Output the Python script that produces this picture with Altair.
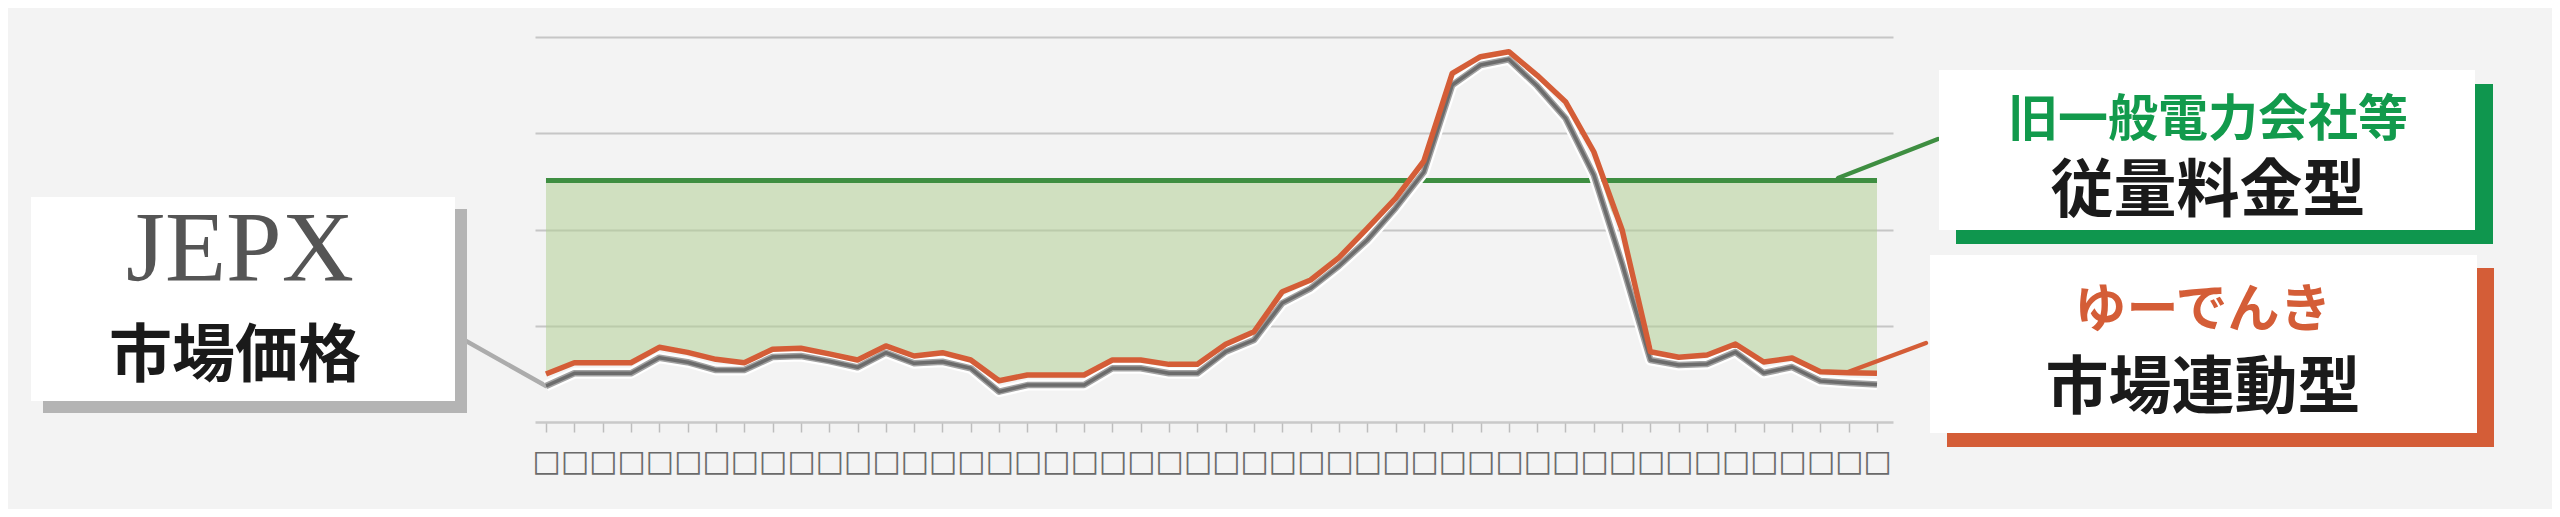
import json
import altair as alt
import pandas as pd

# ---- data ----
slots = list(range(48))  # 30-minute slots of one day
tick_labels = ["□", "□", "□", "□", "□", "□", "□", "□", "□", "□", "□", "□",
               "□", "□", "□", "□", "□", "□", "□", "□", "□", "□", "□", "□",
               "□", "□", "□", "□", "□", "□", "□", "□", "□", "□", "□", "□",
               "□", "□", "□", "□", "□", "□", "□", "□", "□", "□", "□", "□"]
yuudenki = [4.99, 6.16, 6.16, 6.16, 7.76, 7.23, 6.51, 6.16, 7.55, 7.66, 7.08, 6.44,
            7.90, 6.86, 7.20, 6.44, 4.29, 4.88, 4.88, 4.88, 6.44, 6.44, 5.99, 5.99,
            8.07, 9.38, 13.54, 14.75, 17.07, 20.11, 23.24, 27.12, 36.23, 37.95, 38.47, 36.02,
            33.28, 28.08, 19.95, 7.30, 6.72, 6.96, 8.10, 6.23, 6.65, 5.23, 5.12, 5.06]
jepx = [3.74, 5.06, 5.06, 5.06, 6.68, 6.21, 5.40, 5.40, 6.75, 6.86, 6.32, 5.68,
        7.20, 6.10, 6.26, 5.58, 3.15, 3.84, 3.84, 3.84, 5.58, 5.58, 5.06, 5.06,
        7.30, 8.52, 12.36, 13.89, 16.21, 18.91, 22.23, 25.97, 35.01, 37.09, 37.68, 34.91,
        31.58, 25.66, 16.42, 6.44, 5.92, 6.03, 7.27, 5.09, 5.71, 4.26, 4.05, 3.90]
fixed_price = 25.1
grid_values = [10, 20, 30, 40]

txt_jepx = "JEPX"
txt_market = "市場価格"
txt_old = "旧一般電力会社等"
txt_metered = "従量料金型"
txt_brand = "ゆーでんき"
txt_linked = "市場連動型"

df = pd.DataFrame({
    "slot": slots,
    "yuudenki": yuudenki,
    "jepx": jepx,
    "fixed": [fixed_price] * len(slots),
})

GREEN = "#3e8e41"
GREEN_BOX = "#0f964e"
ORANGE = "#d45d37"
CJK = "Noto Sans CJK JP"

x_enc = alt.X(
    "slot:Q",
    scale=alt.Scale(domain=[-0.388, 47.565], nice=False, zero=False),
    axis=alt.Axis(
        values=slots,
        labelExpr=json.dumps(tick_labels) + "[datum.value]",
        title=None,
        grid=False,
        domainColor="#c9c9c9",
        domainWidth=2.5,
        tickColor="#bdbdbd",
        tickWidth=1.5,
        tickSize=10,
        labelFont="DejaVu Sans",
        labelFontSize=30,
        labelColor="#6a6a6a",
        labelPadding=14,
        labelBaseline="top",
        labelOverlap=False,
    ),
)
yscale = alt.Scale(domain=[0, 40], nice=False, zero=True)
yaxis = alt.Axis(values=grid_values, grid=True, labels=False, ticks=False, domain=False,
                 title=None, gridColor="#c6c6c6", gridWidth=2)


def Y(field):
    return alt.Y(field, scale=yscale, axis=yaxis)


base = alt.Chart(df)

area = base.transform_calculate(
    lo="min(datum.yuudenki, datum.fixed)"
).mark_area(color="#b3cf96", opacity=0.55).encode(
    x=x_enc, y=Y("lo:Q"), y2="fixed:Q"
)
green_line = base.mark_line(color=GREEN, strokeWidth=5).encode(x=x_enc, y=Y("fixed:Q"))
gray_halo = base.mark_line(color="#ffffff", strokeWidth=11, strokeJoin="round").encode(x=x_enc, y=Y("jepx:Q"))
gray_outer = base.mark_line(color="#a2a2a2", strokeWidth=6.5, strokeJoin="round").encode(x=x_enc, y=Y("jepx:Q"))
gray_inner = base.mark_line(color="#6c6c6c", strokeWidth=3.5, strokeJoin="round").encode(x=x_enc, y=Y("jepx:Q"))
orange_line = base.mark_line(color=ORANGE, strokeWidth=5.5, strokeJoin="round").encode(x=x_enc, y=Y("yuudenki:Q"))

one = pd.DataFrame({"a": [0]})


def rect(x, x2, y, y2, color):
    return alt.Chart(one).mark_rect(color=color).encode(
        x=alt.value(x), x2=alt.value(x2), y=alt.value(y), y2=alt.value(y2))


def rule(x, y, x2, y2, color, w):
    return alt.Chart(one).mark_rule(color=color, strokeWidth=w, strokeCap="round").encode(
        x=alt.value(x), y=alt.value(y), x2=alt.value(x2), y2=alt.value(y2))


def label(t, x, y, size, color, font=CJK, weight="bold", baseline="middle"):
    return alt.Chart(one).mark_text(
        text=t, font=font, fontSize=size, fontWeight=weight, color=color,
        align="center", baseline=baseline
    ).encode(x=alt.value(x), y=alt.value(y))


leaders = [
    rule(-76, 300, 11, 349, "#acacac", 4.5),
    rule(1303, 141, 1403, 102, GREEN, 4.5),
    rule(1313, 335, 1391, 306, ORANGE, 4.5),
]

boxes = [
    rect(-492, -68, 172, 376, "#b4b4b4"),
    rect(-504, -80, 160, 364, "#ffffff"),
    rect(1421, 1958, 47, 207, GREEN_BOX),
    rect(1404, 1940, 33, 193, "#ffffff"),
    rect(1412, 1959, 231, 410, ORANGE),
    rect(1395, 1942, 218, 396, "#ffffff"),
]

texts = [
    label(txt_jepx, -295, 243, 100, "#555555", font="Liberation Serif", weight="normal", baseline="alphabetic"),
    label(txt_market, -300, 320, 63, "#1a1a1a"),
    label(txt_old, 1673, 84, 50, "#129a4c"),
    label(txt_metered, 1673, 155, 63, "#1a1a1a"),
    label(txt_brand, 1668, 274, 52, ORANGE),
    label(txt_linked, 1668, 352, 63, "#1a1a1a"),
]

chart = alt.layer(
    area, green_line, *leaders, gray_halo, gray_outer, gray_inner, orange_line,
    *boxes, *texts
).properties(
    width=1358,
    height=385,
    padding={"left": 527, "top": 29, "right": 659, "bottom": 87},
    autosize=alt.AutoSizeParams(type="none"),
    background="#f3f3f3",
).configure_view(stroke=None)

chart.save("out.html", embed_options={"renderer": "svg", "actions": False})
